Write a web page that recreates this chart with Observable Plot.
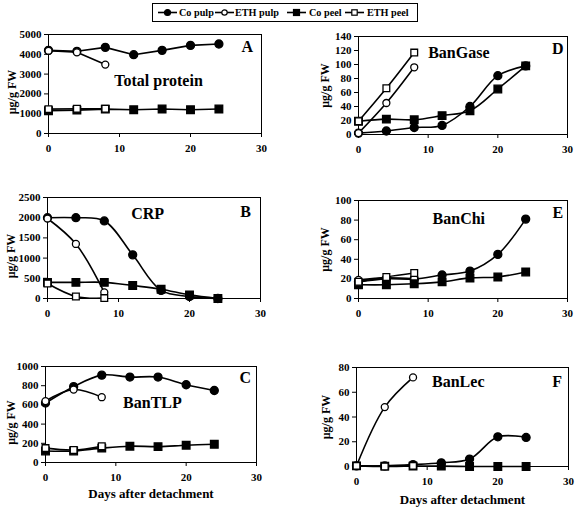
<!DOCTYPE html>
<html><head><meta charset="utf-8">
<script src="https://cdn.jsdelivr.net/npm/d3@7"></script>
<script src="https://cdn.jsdelivr.net/npm/@observablehq/plot@0.6"></script>
<style>
body{margin:0;background:#fff;}
#root{position:relative;width:576px;height:510px;overflow:hidden;font-family:'Liberation Serif','DejaVu Serif',serif;}
#root svg{position:absolute;font-family:'Liberation Serif','DejaVu Serif',serif;}
#root svg text{font-family:'Liberation Serif','DejaVu Serif',serif;}
</style></head>
<body><div id="root"></div>
<script>
// ---- data ----
const days = [0, 4, 8, 12, 16, 20, 24];
const ethDays = [0, 4, 8];
const seriesNames = ["Co pulp", "ETH pulp", "Co peel", "ETH peel"];
const xTicks = [0, 10, 20, 30];

// A: Total protein
const protCoPulp = [4200, 4150, 4350, 3980, 4200, 4450, 4520];
const protEthPulp = [4180, 4100, 3480];
const protCoPeel = [1150, 1180, 1230, 1200, 1240, 1200, 1240];
const protEthPeel = [1230, 1250, 1250];
const protTicks = [0, 1000, 2000, 3000, 4000, 5000];
// B: CRP
const crpCoPulp = [2000, 2000, 1920, 1080, 200, 50, 0];
const crpEthPulp = [1980, 1350, 150];
const crpCoPeel = [400, 400, 400, 320, 230, 90, 0];
const crpEthPeel = [370, 50, 10];
const crpTicks = [0, 500, 1000, 1500, 2000, 2500];
// C: BanTLP
const tlpCoPulp = [620, 790, 910, 890, 890, 810, 750];
const tlpEthPulp = [640, 760, 680];
const tlpCoPeel = [120, 120, 150, 170, 165, 180, 190];
const tlpEthPeel = [150, 130, 170];
const tlpTicks = [0, 200, 400, 600, 800, 1000];
// D: BanGase
const gaseCoPulp = [2, 5, 10, 13, 40, 84, 98];
const gaseEthPulp = [2, 45, 96];
const gaseCoPeel = [19, 22, 21, 27, 34, 65, 98];
const gaseEthPeel = [19, 66, 117];
const gaseTicks = [0, 20, 40, 60, 80, 100, 120, 140];
// E: BanChi
const chiCoPulp = [17, 20, 20, 24, 28, 45, 81];
const chiEthPulp = [19, 21, 20];
const chiCoPeel = [14, 14, 15, 17, 21, 22, 27];
const chiEthPeel = [17, 22, 26];
const chiTicks = [0, 20, 40, 60, 80, 100];
// F: BanLec
const lecCoPulp = [0.5, 0.5, 1.5, 3, 6, 24, 23.5];
const lecEthPulp = [0.5, 48, 72];
const lecCoPeel = [0.5, 0.3, 0.3, 0.3, 0, 0, 0];
const lecEthPeel = [0.5, 0, 0.5];
const lecTicks = [0, 20, 40, 60, 80];

// ---- helpers ----
function table(coPulp, ethPulp, coPeel, ethPeel) {
  const rows = [];
  const add = (xs, ys, s) => xs.forEach((d, i) => rows.push({day: d, value: ys[i], series: s}));
  add(days, coPulp, "Co pulp");
  add(ethDays, ethPulp, "ETH pulp");
  add(days, coPeel, "Co peel");
  add(ethDays, ethPeel, "ETH peel");
  return rows;
}
const markStyle = {
  "Co pulp": {symbol: "circle", fill: "black", r: 4},
  "ETH pulp": {symbol: "circle", fill: "white", r: 3.5},
  "Co peel": {symbol: "square", fill: "black", r: 4.3},
  "ETH peel": {symbol: "square", fill: "white", r: 3.8}
};

const root = document.getElementById("root");
const font = "'Liberation Serif', 'DejaVu Serif', serif";

function panel(cfg) {
  const mL = 50, mR = 14, mT = 12, mB = 50;
  const left = cfg.x0 - mL, top = cfg.y0 - mT;
  const width = cfg.x1 - cfg.x0 + mL + mR;
  const height = cfg.y1 - cfg.y0 + mT + mB;
  const rows = table(...cfg.data);
  const marks = [
    Plot.frame({stroke: "black", strokeWidth: 1}),
    Plot.axisX({ticks: xTicks, tickFormat: "d", tickSize: 4, tickPadding: 7, label: null, fontSize: 11, fontWeight: "bold"}),
    Plot.axisY({ticks: cfg.ticks, tickFormat: "d", tickSize: 4, tickPadding: 3, label: null, fontSize: 11, fontWeight: "bold"})
  ];
  for (const s of seriesNames) {
    marks.push(Plot.line(rows.filter(d => d.series === s), {x: "day", y: "value", stroke: "black", strokeWidth: 1.6, curve: cfg.curve}));
  }
  for (const s of seriesNames) {
    const m = markStyle[s];
    marks.push(Plot.dot(rows.filter(d => d.series === s), {x: "day", y: "value", symbol: m.symbol, r: m.r, fill: m.fill, stroke: "black", strokeWidth: 1.3}));
  }
  marks.push(Plot.text([cfg.title], {x: cfg.titlePos[0], y: cfg.titlePos[1], text: d => d, fontSize: 16, fontWeight: "bold", textAnchor: "middle"}));
  marks.push(Plot.text([cfg.letter], {x: cfg.letterPos[0], y: cfg.letterPos[1], text: d => d, fontSize: 16, fontWeight: "bold", textAnchor: "middle"}));
  marks.push(Plot.text(["\u03bcg/g FW"], {frameAnchor: "left", dx: -cfg.ylabOff, dy: cfg.ylabDy || 0, text: d => d, rotate: -90, fontSize: 12, fontWeight: "bold", textAnchor: "middle"}));
  if (cfg.xlabel) {
    marks.push(Plot.text([cfg.xlabel], {frameAnchor: "bottom", dy: cfg.xlabOff, text: d => d, fontSize: 13, fontWeight: "bold", textAnchor: "middle"}));
  }
  const chart = Plot.plot({
    width, height, marginLeft: mL, marginRight: mR, marginTop: mT, marginBottom: mB,
    x: {domain: [0, 30]},
    y: {domain: [0, d3.max(cfg.ticks)]},
    style: {fontFamily: font, color: "black", background: "transparent", overflow: "visible"},
    marks
  });
  chart.style.left = left + "px";
  chart.style.top = top + "px";
  root.appendChild(chart);
}

panel({x0: 48, x1: 261, y0: 34, y1: 133, ticks: protTicks, data: [protCoPulp, protEthPulp, protCoPeel, protEthPeel],
  title: "Total protein", titlePos: [15.5, 2680], letter: "A", letterPos: [28, 4400], curve: "linear", ylabOff: 36, ylabDy: 8});
panel({x0: 47, x1: 260, y0: 197, y1: 298, ticks: crpTicks, data: [crpCoPulp, crpEthPulp, crpCoPeel, crpEthPeel],
  title: "CRP", titlePos: [14.1, 2100], letter: "B", letterPos: [27.9, 2150], curve: "catmull-rom", ylabOff: 36, ylabDy: 8});
panel({x0: 45, x1: 256, y0: 366, y1: 462, ticks: tlpTicks, data: [tlpCoPulp, tlpEthPulp, tlpCoPeel, tlpEthPeel],
  title: "BanTLP", titlePos: [15.2, 625], letter: "C", letterPos: [28.4, 885], curve: "catmull-rom", ylabOff: 34, ylabDy: 8,
  xlabel: "Days after detachment", xlabOff: 35});
panel({x0: 358, x1: 567, y0: 36, y1: 134, ticks: gaseTicks, data: [gaseCoPulp, gaseEthPulp, gaseCoPeel, gaseEthPeel],
  title: "BanGase", titlePos: [14.4, 116], letter: "D", letterPos: [28.6, 123], curve: "catmull-rom", ylabOff: 33, ylabDy: 0});
panel({x0: 358, x1: 567, y0: 200, y1: 298, ticks: chiTicks, data: [chiCoPulp, chiEthPulp, chiCoPeel, chiEthPeel],
  title: "BanChi", titlePos: [14.4, 81], letter: "E", letterPos: [28.6, 87], curve: "catmull-rom", ylabOff: 33, ylabDy: 0});
panel({x0: 356, x1: 568, y0: 367, y1: 466, ticks: lecTicks, data: [lecCoPulp, lecEthPulp, lecCoPeel, lecEthPeel],
  title: "BanLec", titlePos: [14.4, 68], letter: "F", letterPos: [28.4, 68], curve: "catmull-rom", ylabOff: 30, ylabDy: 0,
  xlabel: "Days after detachment", xlabOff: 37});

// ---- legend ----
const legItems = [
  {name: "Co pulp", sx: 6, tx: 27},
  {name: "ETH pulp", sx: 63, tx: 83},
  {name: "Co peel", sx: 135, tx: 157},
  {name: "ETH peel", sx: 193, tx: 215}
];
const leg = d3.select(root).append("svg").attr("width", 267).attr("height", 20)
  .style("left", "152px").style("top", "3px");
leg.append("rect").attr("x", 0.5).attr("y", 0.5).attr("width", 265).attr("height", 18)
  .attr("fill", "white").attr("stroke", "black").attr("stroke-width", 1);
for (const it of legItems) {
  const m = markStyle[it.name];
  const g = leg.append("g");
  g.append("line").attr("x1", it.sx).attr("x2", it.sx + 19).attr("y1", 9.5).attr("y2", 9.5)
    .attr("stroke", "black").attr("stroke-width", 1.6);
  const cx = it.sx + 9.5;
  if (m.symbol === "circle") {
    g.append("circle").attr("cx", cx).attr("cy", 9.5).attr("r", m.fill === "black" ? 3 : 2.7)
      .attr("fill", m.fill).attr("stroke", "black").attr("stroke-width", 1.2);
  } else {
    const s = m.fill === "black" ? 6 : 5.4;
    g.append("rect").attr("x", cx - s / 2).attr("y", 9.5 - s / 2).attr("width", s).attr("height", s)
      .attr("fill", m.fill).attr("stroke", "black").attr("stroke-width", 1.2);
  }
  g.append("text").attr("x", it.tx).attr("y", 13.2).text(it.name)
    .attr("font-size", 10.2).attr("font-weight", "bold");
}
</script></body></html>
